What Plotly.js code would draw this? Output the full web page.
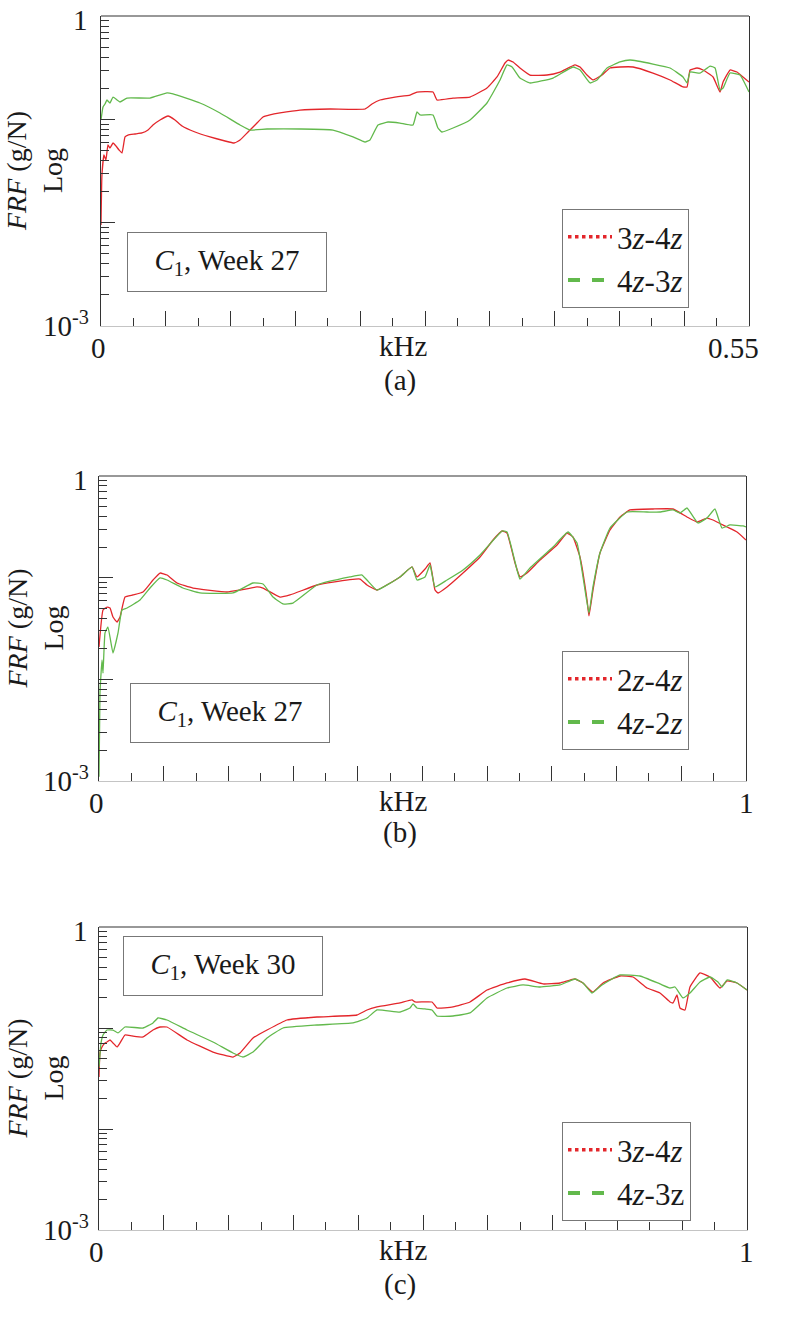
<!DOCTYPE html>
<html>
<head>
<meta charset="utf-8">
<script src="https://cdn.plot.ly/plotly-3.0.1.min.js"></script>
<style>html,body{margin:0;padding:0;background:#fff;}#chart{width:800px;height:1326px;}</style>
</head>
<body>
<div id="chart"></div>
<script>
// ---------- Panel (a): C1, Week 27, 3z-4z / 4z-3z, 0-0.55 kHz ----------
const aRedKHz = [0,0.0008,0.0025,0.0042,0.0059,0.0076,0.0102,0.0127,0.0153,0.0178,0.0204,0.0229,0.0289,0.0348,0.0399,0.0441,0.0501,0.0569,0.0628,0.0688,0.0798,0.0925,0.1053,0.1129,0.118,0.1248,0.1316,0.1375,0.1434,0.1519,0.1689,0.1944,0.2241,0.230,0.2368,0.2495,0.2623,0.2682,0.2818,0.2852,0.2988,0.3132,0.3276,0.3361,0.3429,0.3455,0.3497,0.3556,0.3641,0.3786,0.3896,0.4023,0.4066,0.4125,0.4176,0.4253,0.432,0.4405,0.4516,0.4685,0.483,0.494,0.4974,0.5,0.5059,0.511,0.5195,0.5254,0.528,0.5339,0.5398,0.5449,0.55];
const aRedFRF = [0.0095,0.0289,0.0452,0.0404,0.0565,0.0528,0.059,0.0552,0.0505,0.0472,0.0675,0.0705,0.0721,0.0738,0.0788,0.0881,0.0985,0.1077,0.0985,0.0862,0.0754,0.0675,0.0617,0.059,0.0631,0.0754,0.0901,0.1054,0.1102,0.1152,0.123,0.1259,0.1259,0.1407,0.1538,0.1644,0.1719,0.1838,0.1838,0.1538,0.1607,0.1644,0.201,0.257,0.351,0.375,0.359,0.314,0.2685,0.2685,0.287,0.336,0.321,0.2685,0.2404,0.2685,0.314,0.321,0.321,0.2806,0.2404,0.2056,0.2056,0.300,0.314,0.300,0.257,0.1838,0.2297,0.300,0.287,0.257,0.2297];
const aGreenKHz = [0,0.0017,0.0034,0.0051,0.0076,0.0102,0.0136,0.0161,0.0221,0.0416,0.056,0.0611,0.084,0.101,0.118,0.1265,0.1409,0.1689,0.1969,0.2139,0.2241,0.2283,0.2351,0.2436,0.2538,0.2648,0.2682,0.2708,0.2818,0.286,0.2894,0.2988,0.3132,0.3276,0.3387,0.3446,0.3489,0.3556,0.3641,0.3837,0.4006,0.4066,0.4151,0.421,0.4295,0.4405,0.449,0.4685,0.483,0.494,0.4974,0.5,0.5085,0.517,0.5212,0.5254,0.528,0.5339,0.5424,0.55];
const aGreenFRF = [0.0985,0.1316,0.1407,0.1538,0.1439,0.1644,0.1538,0.1472,0.1607,0.1607,0.180,0.176,0.1439,0.1152,0.0881,0.0788,0.0806,0.0806,0.0788,0.0675,0.0603,0.0631,0.0881,0.0942,0.0921,0.0881,0.1178,0.1102,0.1102,0.0824,0.0754,0.0824,0.0985,0.1439,0.2404,0.336,0.321,0.251,0.2248,0.251,0.321,0.300,0.2248,0.2404,0.314,0.359,0.375,0.343,0.314,0.257,0.2248,0.287,0.2806,0.328,0.314,0.1922,0.201,0.2806,0.2685,0.1838];

// ---------- Panel (b): C1, Week 27, 2z-4z / 4z-2z, 0-1 kHz ----------
const bRedKHz = [0,0.0062,0.0124,0.017,0.0216,0.0278,0.0325,0.0402,0.0526,0.068,0.0835,0.0943,0.1051,0.1206,0.1453,0.1978,0.2179,0.2442,0.2535,0.2798,0.2952,0.337,0.3617,0.4034,0.4142,0.4297,0.4652,0.4838,0.4915,0.5039,0.5116,0.5193,0.524,0.5379,0.5626,0.5889,0.609,0.6229,0.6306,0.643,0.6507,0.6615,0.6816,0.7079,0.7233,0.7326,0.7434,0.7543,0.7573,0.7635,0.7743,0.7898,0.8053,0.8207,0.8563,0.8872,0.9088,0.9243,0.9397,0.949,0.9706,0.9861,1.0];
const bRedFRF = [0.0208,0.0481,0.0514,0.0503,0.041,0.0366,0.041,0.0645,0.0676,0.0723,0.0948,0.1111,0.1062,0.0886,0.0791,0.0723,0.0756,0.081,0.0791,0.0645,0.0676,0.0847,0.0906,0.097,0.0847,0.0756,0.1016,0.1274,0.1016,0.1217,0.1394,0.0756,0.0707,0.081,0.1111,0.1597,0.2346,0.2877,0.2748,0.1394,0.1016,0.1111,0.1493,0.2096,0.2748,0.2512,0.1597,0.0603,0.042,0.0756,0.1749,0.2944,0.3952,0.4633,0.4736,0.4736,0.3952,0.353,0.386,0.369,0.315,0.281,0.2346];
const bGreenKHz = [0,0.0015,0.0046,0.0062,0.0093,0.0139,0.0216,0.0294,0.0355,0.0433,0.0634,0.0788,0.0943,0.1051,0.1298,0.1561,0.2071,0.238,0.2535,0.2689,0.2844,0.2998,0.337,0.3879,0.4065,0.4142,0.4297,0.4652,0.4838,0.4915,0.5039,0.5116,0.5193,0.5379,0.5626,0.5889,0.6229,0.6306,0.6461,0.6507,0.6661,0.7017,0.7249,0.7388,0.7512,0.7573,0.7635,0.7743,0.7898,0.8161,0.847,0.8671,0.8872,0.898,0.9088,0.9258,0.9397,0.952,0.9629,0.9753,0.9954,1.0];
const bGreenFRF = [0.0011,0.00734,0.0155,0.01153,0.0286,0.0327,0.01815,0.0286,0.0481,0.0503,0.0603,0.0791,0.0993,0.0948,0.0791,0.0707,0.0707,0.0886,0.0867,0.0645,0.0551,0.0563,0.0847,0.1016,0.1062,0.0948,0.0756,0.1016,0.1274,0.0948,0.1016,0.1333,0.081,0.0948,0.119,0.1671,0.2877,0.2812,0.119,0.097,0.1245,0.2004,0.2812,0.2193,0.0756,0.0449,0.081,0.1749,0.308,0.4424,0.4424,0.4424,0.4633,0.4325,0.4845,0.345,0.386,0.4736,0.308,0.33,0.3226,0.315];

// ---------- Panel (c): C1, Week 30, 3z-4z / 4z-3z, 0-1 kHz ----------
const cRedKHz = [0,0.0015,0.0046,0.0093,0.0123,0.017,0.0216,0.0278,0.0324,0.0401,0.0509,0.0679,0.0833,0.0941,0.1049,0.1358,0.1759,0.2068,0.2176,0.2377,0.2593,0.2901,0.3364,0.3981,0.4136,0.429,0.4645,0.483,0.4877,0.5139,0.5216,0.5463,0.5725,0.5988,0.6296,0.6574,0.6852,0.7114,0.7346,0.7469,0.7577,0.7623,0.7778,0.804,0.8241,0.8457,0.8657,0.8812,0.8858,0.892,0.8966,0.9043,0.912,0.9275,0.9429,0.9583,0.9691,0.9846,1.0];
const cRedFRF = [0.0327,0.0566,0.0649,0.0711,0.0727,0.0761,0.0711,0.0649,0.0711,0.0853,0.0834,0.0815,0.0955,0.1023,0.1023,0.0761,0.0578,0.0516,0.0566,0.0796,0.0955,0.12,0.1285,0.1345,0.1508,0.1615,0.177,0.1894,0.181,0.181,0.1578,0.1615,0.181,0.2377,0.279,0.3055,0.2729,0.279,0.3055,0.279,0.2377,0.227,0.279,0.3273,0.3199,0.2489,0.2222,0.181,0.177,0.2123,0.1578,0.1508,0.2547,0.3506,0.3199,0.2489,0.2919,0.279,0.2377];
const cGreenKHz = [0,0.0031,0.0062,0.0123,0.0216,0.0293,0.0401,0.0679,0.0833,0.091,0.1049,0.1358,0.1759,0.2068,0.2222,0.2377,0.2593,0.284,0.3364,0.392,0.4136,0.429,0.4645,0.4799,0.4846,0.4907,0.5031,0.5139,0.5216,0.5463,0.5725,0.5988,0.6296,0.6543,0.6806,0.7114,0.7346,0.7469,0.7608,0.7762,0.804,0.8349,0.8657,0.8812,0.8889,0.9012,0.912,0.9275,0.9429,0.9552,0.9614,0.9691,0.9846,1.0];
const cGreenFRF = [0.0411,0.0711,0.0853,0.0955,0.0955,0.0893,0.1023,0.1,0.1122,0.1256,0.12,0.0955,0.0727,0.0566,0.0516,0.0578,0.0796,0.1,0.1071,0.1122,0.1256,0.1508,0.144,0.1578,0.173,0.1578,0.1543,0.1508,0.1315,0.1315,0.1409,0.1983,0.2489,0.2667,0.2547,0.2667,0.3055,0.279,0.2222,0.2667,0.335,0.3273,0.2729,0.2489,0.2547,0.1983,0.2222,0.2851,0.3199,0.2851,0.2547,0.2987,0.279,0.2377];

// ---------- Labels ----------
const panelLabels = ["(a)", "(b)", "(c)"];
const boxLabels = ["<i>C</i><sub>1</sub>, Week 27", "<i>C</i><sub>1</sub>, Week 27", "<i>C</i><sub>1</sub>, Week 30"];
const legendNames = [["3<i>z</i>-4<i>z</i>", "4<i>z</i>-3<i>z</i>"], ["2<i>z</i>-4<i>z</i>", "4<i>z</i>-2<i>z</i>"], ["3<i>z</i>-4<i>z</i>", "4<i>z</i>-3z"]];
const xMax = [0.55, 1, 1];
const xMinLabel = "0";
const xMaxLabel = ["0.55", "1", "1"];
const yTopLabel = "1";
const yBottomLabel = "10<sup>-3</sup>";
const yMajorVals = [0.001, 0.01, 0.1, 1];
const yMinorVals = [0.002,0.003,0.004,0.005,0.006,0.007,0.008,0.009,0.02,0.03,0.04,0.05,0.06,0.07,0.08,0.09,0.2,0.3,0.4,0.5,0.6,0.7,0.8,0.9];

const RED = "#e3262b", GREEN = "#62b94c";
const FONT = "Liberation Serif, Times New Roman, serif";
const TXT = "#1a1a1a";

// pixel geometry of panels (left, right, top, bottom) in an 800x1326 page
const W = 800, H = 1326;
const geom = [[101, 749, 16, 326], [99, 746, 476, 781], [99, 747, 927, 1230]];
const xPix = (p) => p / W;
const yPix = (p) => 1 - p / H;

const series = [
  [aRedKHz, aRedFRF, aGreenKHz, aGreenFRF],
  [bRedKHz, bRedFRF, bGreenKHz, bGreenFRF],
  [cRedKHz, cRedFRF, cGreenKHz, cGreenFRF]
];

const traces = [];
const layout = {
  width: W, height: H,
  margin: {l: 0, r: 0, t: 0, b: 0},
  paper_bgcolor: "#fff", plot_bgcolor: "#fff",
  font: {family: FONT, color: TXT, size: 28},
  showlegend: true,
  annotations: [], shapes: []
};

const legendTop = [209, 651, 1122];
const legendEntryW = [148, 148, 135];
const boxCenter = [[227, 262.5], [230, 712.5], [222.5, 966]];
const labelY = [381, 832, 1284];
const xMaxLabelX = [733, 746, 746];

function txt(x, y, text, size, xanchor, yanchor, extra) {
  return Object.assign({
    xref: "paper", yref: "paper", x: xPix(x), y: yPix(y), xanchor: xanchor || "center", yanchor: yanchor || "middle",
    text: text, showarrow: false, font: {family: FONT, size: size, color: TXT}
  }, extra || {});
}

for (let i = 0; i < 3; i++) {
  const sfx = i === 0 ? "" : String(i + 1);
  const xa = "x" + sfx, ya = "y" + sfx;
  const lg = i === 0 ? "legend" : "legend" + (i + 1);
  const [l, r, t, b] = geom[i];
  const s = series[i];
  traces.push({x: s[0], y: s[1], xaxis: xa, yaxis: ya, mode: "lines", line: {color: RED, width: 1.3, shape: "spline", smoothing: 0.35}, showlegend: false, hoverinfo: "skip"});
  traces.push({x: s[2], y: s[3], xaxis: xa, yaxis: ya, mode: "lines", line: {color: GREEN, width: 1.3, shape: "spline", smoothing: 0.35}, showlegend: false, hoverinfo: "skip"});
  // legend entries (styled as in the figure key)
  traces.push({x: [null], y: [null], xaxis: xa, yaxis: ya, mode: "lines", name: legendNames[i][0], line: {color: RED, width: 3.5, dash: "dot"}, legend: lg});
  traces.push({x: [null], y: [null], xaxis: xa, yaxis: ya, mode: "lines", name: legendNames[i][1], line: {color: GREEN, width: 4, dash: "dash"}, legend: lg});

  const step = xMax[i] / 20;
  const major = [], minor = [];
  for (let k = 1; k < 20; k++) {
    const v = +(k * step).toFixed(5);
    if (k % 2 === 0) major.push(v); else minor.push(v);
  }

  layout["xaxis" + sfx] = {
    domain: [xPix(l), xPix(r)], anchor: ya, range: [0, xMax[i]],
    showgrid: false, zeroline: false, showline: true, linecolor: "#c4c4c4", linewidth: 1,
    ticks: "inside", ticklen: 15, tickwidth: 1, tickcolor: "#333",
    tickmode: "array", tickvals: major, showticklabels: false,
    minor: {tickmode: "array", tickvals: minor, ticks: "inside", ticklen: 8, tickwidth: 1, tickcolor: "#333", showgrid: false},
    fixedrange: true
  };
  layout["yaxis" + sfx] = {
    domain: [yPix(b), yPix(t)], anchor: xa, type: "log", range: [-3, 0],
    showgrid: false, zeroline: false, showline: true, mirror: true, linecolor: "#333", linewidth: 1.2,
    ticks: "inside", ticklen: 14, tickwidth: 1, tickcolor: "#333",
    tickmode: "array", tickvals: yMajorVals, showticklabels: false,
    minor: {tickmode: "array", tickvals: yMinorVals, ticks: "inside", ticklen: 8, tickwidth: 1, tickcolor: "#333", showgrid: false},
    fixedrange: true
  };
  layout.shapes.push({type: "line", xref: xa + " domain", yref: ya + " domain", x0: 0, x1: 1, y0: 1, y1: 1, line: {color: "#333", width: 1.2}});

  layout[lg] = {
    x: xPix(562), y: yPix(legendTop[i]), xanchor: "left", yanchor: "top",
    bgcolor: "#fff", bordercolor: "#777", borderwidth: 1,
    font: {family: FONT, size: 31, color: TXT}, itemwidth: 44, tracegroupgap: 0,
    entrywidth: legendEntryW[i], entrywidthmode: "pixels"
  };

  // info box
  layout.annotations.push(txt(boxCenter[i][0], boxCenter[i][1], boxLabels[i], 29, "center", "middle",
    {bordercolor: "#777", borderwidth: 1, width: 196, height: 56, align: "center", bgcolor: "#fff"}));
  // y-axis title
  layout.annotations.push(txt(35, (t + b) / 2, "<i>FRF</i> (g/N)<br>Log", 28, "center", "middle", {textangle: -90}));
  // axis end labels
  layout.annotations.push(txt(90, t + 4, yTopLabel, 29, "right", "middle"));
  layout.annotations.push(txt(91, b - 2, yBottomLabel, 29, "right", "middle"));
  layout.annotations.push(txt(l - 3, b + 22, xMinLabel, 29, "center", "middle"));
  layout.annotations.push(txt(xMaxLabelX[i], b + 22, xMaxLabel[i], 29, "center", "middle"));
  // kHz unit label
  layout.annotations.push(txt(403, b + 20, "kHz", 29, "center", "middle"));
  // panel label
  layout.annotations.push(txt(400, labelY[i], panelLabels[i], 29, "center", "middle"));
}

Plotly.newPlot("chart", traces, layout, {staticPlot: true, displayModeBar: false});
</script>
</body>
</html>
